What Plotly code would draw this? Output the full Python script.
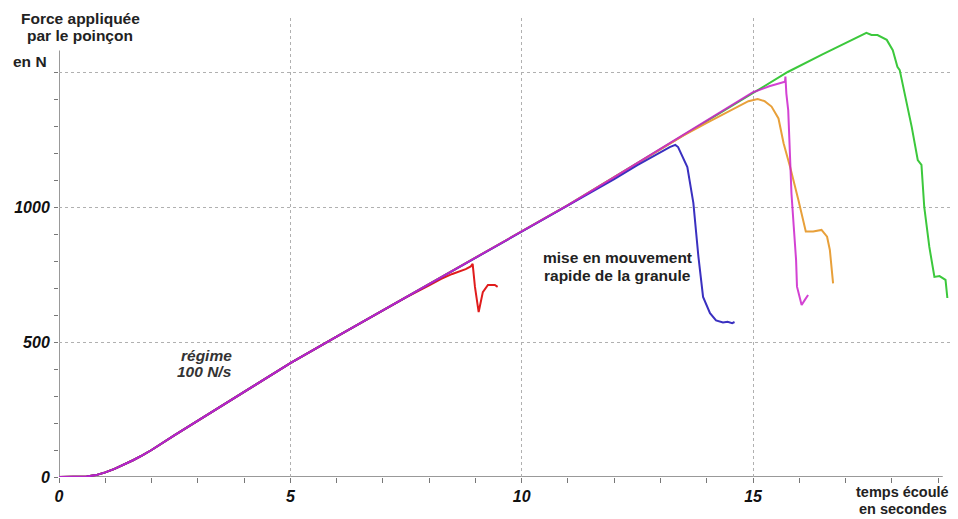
import plotly.graph_objects as go

# common loading ramp (≈100 N/s)
ramp_t = [0, 0.4, 0.6, 0.8, 1.0, 1.2, 1.4, 1.6, 1.8, 2.0, 2.5, 3.0, 3.5, 4.0, 4.5, 5.0,
          6.0, 7.0, 8.0, 9.0, 10.0, 11.0, 12.0, 13.0, 14.0, 15.0]
ramp_f = [0, 0, 2, 7, 17, 30, 45, 62, 80, 100, 155, 208, 262, 315, 368, 422,
          520, 617, 715, 812, 910, 1007, 1111, 1215, 1319, 1425]

# individual tails (after leaving the common ramp)
red_split = 7.0
red_t = [7.5, 8.0, 8.25, 8.5, 8.79, 8.9, 8.94, 8.99, 9.07, 9.16, 9.27, 9.42, 9.48]
red_f = [665, 710, 733, 752, 770, 780, 789, 704, 611, 685, 711, 711, 704]

blue_split = 11.0
blue_t = [11.5, 12.0, 12.5, 13.0, 13.2, 13.32, 13.38, 13.58, 13.71, 13.82, 13.92,
          14.07, 14.2, 14.35, 14.45, 14.55, 14.6]
blue_f = [1055, 1103, 1155, 1205, 1222, 1230, 1222, 1148, 1015, 815, 667,
          607, 580, 572, 575, 570, 574]

orange_split = 13.0
orange_t = [13.5, 14.0, 14.5, 14.9, 15.1, 15.25, 15.40, 15.55, 15.66, 15.80, 15.98,
            16.14, 16.30, 16.48, 16.60, 16.66, 16.73]
orange_f = [1265, 1312, 1358, 1392, 1400, 1392, 1372, 1328, 1236, 1149, 1026,
            909, 909, 915, 890, 841, 717]

magenta_split = 15.0
magenta_t = [15.35, 15.69, 15.70, 15.72, 15.76, 15.80, 15.83, 15.88, 15.93, 15.95,
             16.01, 16.05, 16.12, 16.19]
magenta_f = [1447, 1464, 1483, 1420, 1359, 1174, 1051, 927, 804, 705,
             662, 637, 656, 674]

green_split = 15.0
green_t = [15.75, 16.5, 17.0, 17.3, 17.45, 17.56, 17.69, 17.89, 18.02, 18.12, 18.17,
           18.43, 18.56, 18.64, 18.70, 18.81, 18.92, 19.03, 19.16, 19.20]
green_f = [1500, 1565, 1608, 1633, 1645, 1637, 1637, 1619, 1581, 1519, 1507,
           1296, 1174, 1156, 1000, 852, 741, 744, 730, 663]

x_ticks = [0, 5, 10, 15]
y_ticks = [0, 500, 1000, 1500]
y_ticktext = ["0", "500", "1000", ""]

FONT = "Liberation Sans, Arial, sans-serif"


def series(split, t, f):
    xs = [a for a in ramp_t if a <= split] + t
    ys = [b for a, b in zip(ramp_t, ramp_f) if a <= split] + f
    return xs, ys


fig = go.Figure()
traces = [
    (green_split, green_t, green_f, "#3cc83c", 1.0),
    (orange_split, orange_t, orange_f, "#e8a03a", 1.0),
    (red_split, red_t, red_f, "#e01c1c", 1.0),
    (blue_split, blue_t, blue_f, "#3a30c0", 1.0),
    (magenta_split, magenta_t, magenta_f, "#cc22cc", 0.85),
]
for split, t, f, col, op in traces:
    xs, ys = series(split, t, f)
    fig.add_trace(go.Scatter(x=xs, y=ys, mode="lines",
                             line=dict(color=col, width=2), opacity=op,
                             showlegend=False, hoverinfo="skip"))

XR = [0, 19.3]
YR = [0, 1700]

# page has an 8px body margin: figure is 950x511, plot area at page px 57..952 / 18..477
fig.update_layout(
    width=950, height=511,
    margin=dict(l=49, r=6, t=10, b=42),
    paper_bgcolor="white", plot_bgcolor="white",
    font=dict(family=FONT, color="#111"),
    xaxis=dict(range=XR, tickvals=x_ticks, ticktext=[str(v) for v in x_ticks],
               showgrid=True, gridcolor="#b0b0b0", griddash="dot", gridwidth=1,
               zeroline=False, showline=False,
               ticks="outside", ticklen=5, tickcolor="#777",
               minor=dict(dtick=1, tick0=0, ticks="outside", ticklen=5, tickcolor="#777",
                          showgrid=False),
               tickfont=dict(size=16, style="italic", weight="bold", color="#111"),
               fixedrange=True),
    yaxis=dict(range=YR, tickvals=y_ticks, ticktext=y_ticktext,
               showgrid=True, gridcolor="#b0b0b0", griddash="dot", gridwidth=1,
               zeroline=False, showline=False,
               ticks="outside", ticklen=4, tickcolor="#777",
               minor=dict(tickvals=list(range(0, 1501, 100)), ticks="outside",
                          ticklen=4, tickcolor="#777", showgrid=False),
               tickfont=dict(size=16, style="italic", weight="bold", color="#111"),
               ticklabelstandoff=1,
               fixedrange=True),
    xaxis2=dict(range=XR, overlaying="x", anchor="y", showgrid=False, zeroline=False,
                showticklabels=False, tickvals=list(range(0, 20)), ticks="inside",
                ticklen=5, tickcolor="#777", fixedrange=True),
    yaxis2=dict(range=YR, overlaying="y", anchor="x", side="left", showgrid=False,
                zeroline=False, showticklabels=False, tickvals=list(range(0, 1501, 100)),
                ticks="inside", ticklen=4, tickcolor="#777", fixedrange=True),
)

# axis lines
fig.add_shape(type="line", xref="x", yref="y", x0=0, x1=19.1, y0=0, y1=0,
              line=dict(color="#777", width=1.5), layer="below")
fig.add_shape(type="line", xref="x", yref="y", x0=0, x1=0, y0=0, y1=1580,
              line=dict(color="#777", width=1.5), layer="below")


def label(text, px, py, size=15.5, italic=False, color="#222", anchor="center"):
    # px, py: page pixel position of the text anchor -> paper coordinates
    fnt = dict(family=FONT, size=size, color=color, weight="bold")
    if italic:
        fnt["style"] = "italic"
    fig.add_annotation(text=text, xref="paper", yref="paper",
                       x=(px - 57) / 895, y=(477 - py) / 459,
                       xanchor=anchor, yanchor="middle", showarrow=False, font=fnt)


label("Force appliquée", 79, 18)
label("par le poinçon", 78, 35)
label("en N", 47, 62, anchor="right")
label("temps écoulé", 902, 492, size=14.5)
label("en secondes", 903, 509, size=14.5)
label("mise en mouvement", 617, 258)
label("rapide de la granule", 617, 275)
label("régime", 205, 355, size=15.5, italic=True, color="#333")
label("100 N/s", 203, 371, size=15.5, italic=True, color="#333")

fig.write_html("out.html")
